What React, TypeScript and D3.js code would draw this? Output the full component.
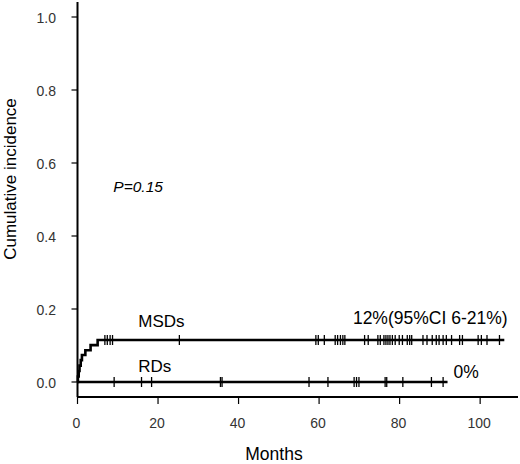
import * as d3 from 'd3';

// cumulative incidence steps (months, value)
const msdEventMonths = [0.1, 0.3, 0.5, 0.8, 1.1, 1.95, 3.25, 5.0];
const msdIncidence = [0.015, 0.03, 0.045, 0.06, 0.074, 0.087, 0.101, 0.115];
const msdLastMonth = 106;
const msdCensored = [
  6.8, 7.4, 8.1, 8.7, 25.3, 59.2, 59.8, 61.3, 64.0, 64.6, 65.3, 65.9, 66.4, 71.3, 72.2, 74.6, 75.2,
  76.1, 76.6, 77.1, 77.6, 78.2, 78.9, 79.9, 80.7, 81.9, 82.5, 83.0, 85.8, 86.8, 88.1, 89.1, 89.8,
  90.8, 91.6, 92.9, 94.9, 95.6, 99.5, 100.3, 101.7, 104.8,
];

const rdLastMonth = 91.9;
const rdCensored = [9.1, 15.9, 18.4, 35.5, 35.9, 57.5, 62.2, 68.7, 69.3, 69.9, 76.4, 76.8, 80.8, 87.9, 90.8];

const xTicks = [0, 20, 40, 60, 80, 100];
const yTicks = [0, 0.2, 0.4, 0.6, 0.8, 1.0];

const W = 520;
const H = 464;
const font = '"Liberation Sans", Arial, sans-serif';

export default function App() {
  const x = d3.scaleLinear().domain([0, 109.4]).range([77.5, 518]);
  const y = d3.scaleLinear().domain([0, 1]).range([382, 17]);
  const axisY = 397;

  const msdPts: [number, number][] = [[0, 0]];
  msdEventMonths.forEach((m, i) => msdPts.push([m, msdIncidence[i]]));
  msdPts.push([msdLastMonth, msdIncidence[msdIncidence.length - 1]]);
  const step = d3
    .line<[number, number]>()
    .x((d) => x(d[0]))
    .y((d) => y(d[1]))
    .curve(d3.curveStepAfter);

  const msdAt = (m: number) => {
    let v = 0;
    msdEventMonths.forEach((e, i) => {
      if (e <= m) v = msdIncidence[i];
    });
    return v;
  };

  return (
    <svg
      width={W}
      height={H}
      style={{ position: 'absolute', left: 0, top: 0, background: '#fff' }}
      fontFamily={font}
    >
      {/* axes */}
      <line x1={x(0)} x2={x(0)} y1={2} y2={axisY} stroke="#000" strokeWidth={2} />
      <line x1={x(0)} x2={518} y1={axisY} y2={axisY} stroke="#000" strokeWidth={2} />
      {yTicks.map((t) => (
        <g key={'y' + t}>
          <line x1={x(0) - 6} x2={x(0)} y1={y(t)} y2={y(t)} stroke="#000" strokeWidth={1.2} />
          <text x={56} y={y(t) + 6} textAnchor="end" fontSize={14} fill="#333">
            {d3.format('.1f')(t)}
          </text>
        </g>
      ))}
      {xTicks.map((t) => (
        <g key={'x' + t}>
          <line x1={x(t)} x2={x(t)} y1={axisY} y2={axisY + 7} stroke="#000" strokeWidth={1.2} />
          <text x={x(t) - 1} y={428} textAnchor="middle" fontSize={14} fill="#333">
            {t}
          </text>
        </g>
      ))}
      <text x={274} y={460} textAnchor="middle" fontSize={17.5}>
        Months
      </text>
      <text transform={`translate(16,${179}) rotate(-90)`} textAnchor="middle" fontSize={17}>
        Cumulative incidence
      </text>

      {/* RDs */}
      <line x1={x(0)} x2={x(rdLastMonth)} y1={y(0)} y2={y(0)} stroke="#000" strokeWidth={2.4} />
      {rdCensored.map((m, i) => (
        <line key={'r' + i} x1={x(m)} x2={x(m)} y1={y(0) - 5} y2={y(0) + 5} stroke="#000" strokeWidth={1.3} />
      ))}

      {/* MSDs */}
      <path d={step(msdPts) ?? ''} fill="none" stroke="#000" strokeWidth={2.6} />
      {msdCensored.map((m, i) => (
        <line
          key={'m' + i}
          x1={x(m)}
          x2={x(m)}
          y1={y(msdAt(m)) - 5}
          y2={y(msdAt(m)) + 5}
          stroke="#000"
          strokeWidth={1.3}
        />
      ))}

      {/* annotations */}
      <text x={x(8.9)} y={y(0.52)} fontSize={15.5} fontStyle="italic">
        P=0.15
      </text>
      <text x={x(15.1)} y={y(0.15)} fontSize={17}>
        MSDs
      </text>
      <text x={x(15.1)} y={y(0.028)} fontSize={17}>
        RDs
      </text>
      <text x={x(68.4)} y={y(0.159)} fontSize={17.5}>
        12%(95%CI 6-21%)
      </text>
      <text x={x(93.4)} y={y(0.01)} fontSize={17.5}>
        0%
      </text>
    </svg>
  );
}
